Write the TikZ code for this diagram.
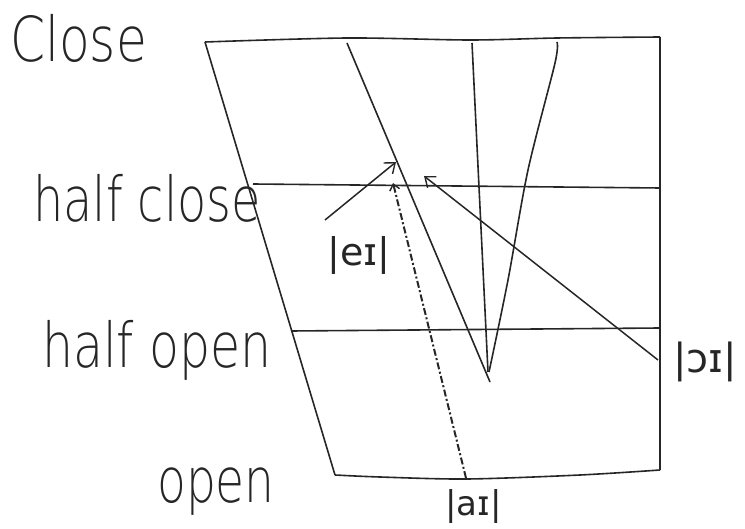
\documentclass[tikz,border=0pt]{standalone}
\usepackage{fontspec}
\usepackage{graphicx}
\usetikzlibrary{arrows.meta}
\newfontfamily\handfont{DejaVu Sans ExtraLight}
\newfontfamily\ipafont{DejaVu Sans}
\newcommand{\narrowtext}[2]{\scalebox{#1}[1]{#2}}
\begin{document}
\begin{tikzpicture}[x=1pt,y=-1pt,
  chart/.style={line width=1.6pt, black!85},
  lbl/.style={inner sep=0pt, anchor=base west, text=black!85},
  ipa/.style={inner sep=0pt, anchor=base west, text=black!85},
  glide/.style={line width=1.5pt, black!85, -{Straight Barb[length=9pt,width=14pt,line width=1.4pt]}},
  glidedash/.style={line width=2pt, black!85, dash pattern=on 7pt off 2.5pt on 2pt off 2.5pt, -{Straight Barb[length=6pt,width=10pt,line width=1.4pt,sep=0pt]}}]
\useasboundingbox (0,0) rectangle (745,529);
% corners of chart
\coordinate (TL) at (205,42);
\coordinate (TR) at (660,37);
\coordinate (BL) at (335,475);
\coordinate (BR) at (660,470);
\coordinate (HCl) at (253,184);
\coordinate (HCr) at (660,188);
\coordinate (HOl) at (291,331);
\coordinate (HOr) at (660,328);
% outline
\draw[chart] plot[smooth] coordinates {(205,42) (347,38) (470,40) (557,38) (660,37)};
\draw[chart] (TL) -- (BL);
\draw[chart] (TR) -- (BR);
\draw[chart] plot[smooth] coordinates {(335,475) (380,477) (467,479) (580,475) (660,470)};
\draw[chart] (HCl) -- (HCr);
\draw[chart] (HOl) -- (HOr);
% V lines
\coordinate (A1) at (347,43);
\coordinate (A2) at (490,382);
\coordinate (B1) at (472,43);
\coordinate (B2) at (488,372);
\draw[chart] (A1) -- (A2);
\draw[chart] (B1) -- (B2);
\draw[chart] plot[smooth] coordinates {(557,42) (555,63) (528,170) (508,280) (489,372)};
% labels
\node[lbl, font=\handfont\fontsize{62}{62}\selectfont] (close) at (10,62) {\narrowtext{0.81}{Close}};
\node[lbl, font=\handfont\fontsize{62}{62}\selectfont] (hclose) at (33,222) {\narrowtext{0.77}{half close}};
\node[lbl, font=\handfont\fontsize{62}{62}\selectfont] (hopen) at (42,368) {\narrowtext{0.79}{half open}};
\node[lbl, font=\handfont\fontsize{62}{62}\selectfont] (open) at (157,503) {\narrowtext{0.76}{open}};
\node[ipa, font=\ipafont\fontsize{38}{38}\selectfont] (ei) at (327,266) {|eɪ|};
\node[ipa, font=\ipafont\fontsize{40}{40}\selectfont] (oi) at (673,373) {|ɔɪ|};
\node[ipa, font=\ipafont\fontsize{34}{34}\selectfont] (ai) at (445,515) {|aɪ|};
% glide arrows
\coordinate (eiS) at (325,220);
\coordinate (eiT) at (396,162);
\coordinate (oiS) at (658,360);
\coordinate (oiT) at (424,176);
\coordinate (aiS) at (466,478);
\coordinate (aiT) at (393,183);
\draw[glide] (eiS) -- (eiT);
\draw[glide] (oiS) -- (oiT);
\draw[glidedash] (aiS) -- (aiT);
\end{tikzpicture}
\end{document}
